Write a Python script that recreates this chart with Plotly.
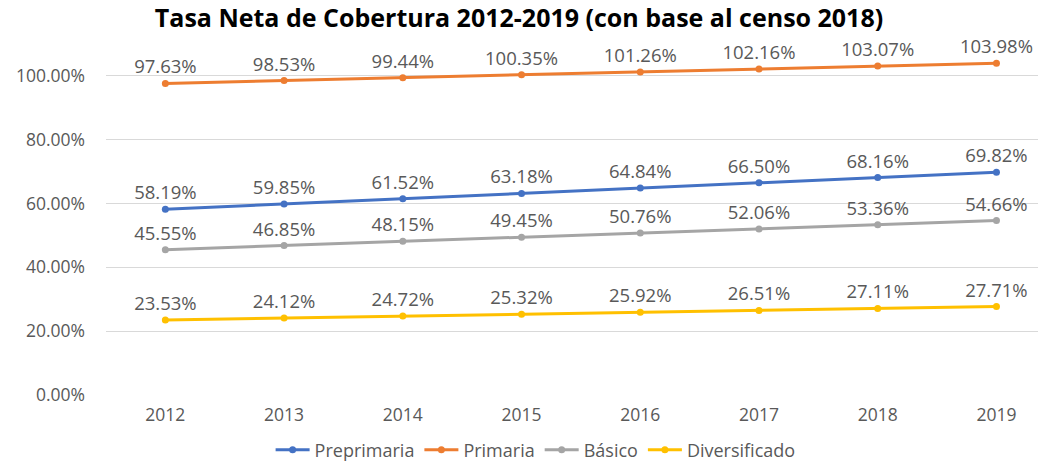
import plotly.graph_objects as go

years = ["2012", "2013", "2014", "2015", "2016", "2017", "2018", "2019"]
preprimaria = [58.19, 59.85, 61.52, 63.18, 64.84, 66.50, 68.16, 69.82]
primaria = [97.63, 98.53, 99.44, 100.35, 101.26, 102.16, 103.07, 103.98]
basico = [45.55, 46.85, 48.15, 49.45, 50.76, 52.06, 53.36, 54.66]
diversificado = [23.53, 24.12, 24.72, 25.32, 25.92, 26.51, 27.11, 27.71]
y_ticks = [0, 0.2, 0.4, 0.6, 0.8, 1.0]

series = [
    ("Preprimaria", preprimaria, "#4472C4"),
    ("Primaria", primaria, "#ED7D31"),
    ("Básico", basico, "#A5A5A5"),
    ("Diversificado", diversificado, "#FFC000"),
]

fig = go.Figure()
for name, vals, color in series:
    fig.add_trace(go.Scatter(
        x=list(range(len(years))),
        y=[v / 100 for v in vals],
        name=name,
        mode="lines+markers+text",
        line=dict(color=color, width=3),
        marker=dict(color=color, size=7),
        text=[f"{v:.2f}%" for v in vals],
        textposition="top center",
        textfont=dict(family="Open Sans", size=18.5, color="#595959"),
        cliponaxis=False,
    ))

fig.update_layout(
    width=1038, height=461,
    margin=dict(l=106, r=0, t=44, b=66, autoexpand=False),
    paper_bgcolor="white", plot_bgcolor="white",
    title=dict(text="<b>Tasa Neta de Cobertura 2012-2019 (con base al censo 2018)</b>",
               x=0.5, xanchor="center", xref="container",
               y=0.96, yanchor="middle", yref="container",
               font=dict(family="Open Sans", size=25, color="black")),
    font=dict(family="Open Sans", color="#595959"),
    showlegend=True,
    legend=dict(orientation="h", x=0.516, xanchor="center", xref="container",
                y=0.024, yanchor="middle", yref="container",
                font=dict(family="Open Sans", size=18, color="#595959"),
                itemwidth=34, traceorder="normal"),
)
fig.update_xaxes(
    tickmode="array", tickvals=list(range(len(years))), ticktext=years,
    range=[-0.5, 7.35], showgrid=False, zeroline=False, showline=False,
    tickfont=dict(size=17.5, color="#595959"), ticks="", ticklabelstandoff=7,
    automargin=False,
)
fig.update_yaxes(
    range=[0, 1.1], tickvals=y_ticks, tickformat=".2%",
    showgrid=True, gridcolor="#D9D9D9", gridwidth=1, zeroline=False,
    tickfont=dict(size=17.5, color="#595959"), ticks="", ticklabelstandoff=20,
    automargin=False,
)

fig.write_html("out.html", config={"displayModeBar": False},
               post_script="document.body.style.margin='0';document.body.style.overflow='hidden';")
